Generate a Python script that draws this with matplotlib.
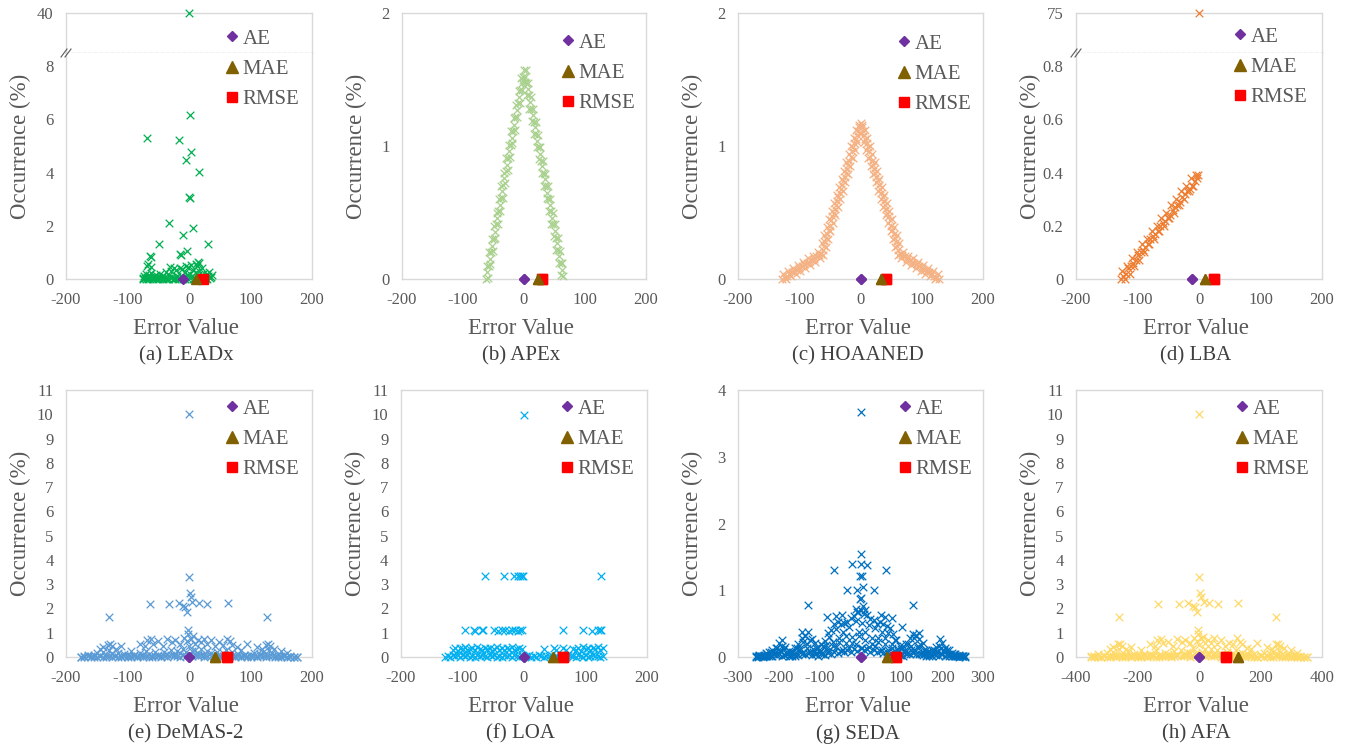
import numpy as np
import matplotlib.pyplot as plt
from matplotlib.lines import Line2D

plt.rcParams['font.family'] = ['Liberation Serif', 'DejaVu Serif']
plt.rcParams['axes.unicode_minus'] = False

# ---------------- data ----------------
metric_names = ['AE', 'MAE', 'RMSE']

# (a) LEADx
leadx_x = [0, 1, -68, -16, 3, -5, 16, 0, 1, -33, 7, -10, -48, 31, -4, -15, -13, -64, -62, -66, -69, -61, 14, 17, 11,
           -75, -73, -71, -70, -68, -66, -65, -63, -61, -59, -57, -55, -53, -51, -49, -47, -45, -43, -41, -39,
           -37, -35, -33, -31, -29, -27, -25, -23, -21, -19, -17, -15, -13, -11, -9, -7, -5, -3, -1, 1, 3, 5,
           7, 9, 11, 13, 15, 17, 19, 21, 23, 25, 27, 29, 31, 33, 35, 37,
           -74, -70, -66, -62, -58, -54, -50, -46, -42, -38, -34, -30, -26, -22, -18, -14, -10, -6, -2, 2, 6,
           10, 14, 18, 22, 26, 30, 34]
leadx_y = [40.0, 6.15, 5.32, 5.21, 4.76, 4.46, 4.02, 3.09, 3.05, 2.12, 1.91, 1.65, 1.31, 1.31, 1.05, 0.94, 0.90,
           0.88, 0.82, 0.56, 0.50, 0.44, 0.63, 0.60, 0.58,
           0.05, 0.12, 0.02, 0.18, 0.08, 0.03, 0.14, 0.06, 0.22, 0.04, 0.11, 0.02, 0.15, 0.07, 0.03, 0.19, 0.05,
           0.12, 0.02, 0.09, 0.25, 0.04, 0.14, 0.45, 0.30, 0.08, 0.40, 0.03, 0.35, 0.10, 0.05, 0.42, 0.12, 0.38,
           0.07, 0.28, 0.50, 0.15, 0.45, 0.20, 0.52, 0.10, 0.35, 0.05, 0.25, 0.48, 0.15, 0.30, 0.08, 0.40, 0.12,
           0.22, 0.05, 0.18, 0.10, 0.25, 0.06, 0.15,
           0.0, 0.01, 0.0, 0.02, 0.0, 0.01, 0.0, 0.02, 0.0, 0.01, 0.0, 0.02, 0.0, 0.01, 0.0, 0.02, 0.0, 0.01,
           0.0, 0.02, 0.0, 0.01, 0.0, 0.02, 0.0, 0.01, 0.0, 0.02]
leadx_metrics = [-9, 12, 23]

# (b) APEx
apex_x = [-62, -60, -58, -56, -54, -52, -50, -48, -46, -44, -42, -40, -38, -36, -34, -32, -30, -28, -26, -24,
          -22, -20, -18, -16, -14, -12, -10, -8, -6, -4, -2, 0,
          2, 4, 6, 8, 10, 12, 14, 16, 18, 20, 22, 24, 26, 28, 30, 32, 34, 36, 38, 40, 42, 44, 46, 48, 50, 52,
          54, 56, 58, 60, 62, 64]
apex_y = [0.00, 0.05, 0.10, 0.15, 0.20, 0.25, 0.30, 0.35, 0.41, 0.46, 0.51, 0.56, 0.61, 0.66, 0.71, 0.76, 0.81,
          0.86, 0.91, 0.96, 1.01, 1.06, 1.11, 1.16, 1.22, 1.27, 1.32, 1.37, 1.42, 1.47, 1.52, 1.57,
          1.52, 1.47, 1.43, 1.38, 1.33, 1.28, 1.23, 1.18, 1.14, 1.09, 1.04, 0.99, 0.94, 0.89, 0.85, 0.80, 0.75,
          0.70, 0.65, 0.60, 0.56, 0.51, 0.46, 0.41, 0.36, 0.31, 0.27, 0.22, 0.17, 0.12, 0.07, 0.02]
apex_x2 = [-61, -59, -57, -55, -53, -51, -49, -47, -45, -43, -41, -39, -37, -35, -33, -31, -29, -27, -25, -23,
           -21, -19, -17, -15, -13, -11, -9, -7, -5, -3, -1,
           1, 3, 5, 7, 9, 11, 13, 15, 17, 19, 21, 23, 25, 27, 29, 31, 33, 35, 37, 39, 41, 43, 45, 47, 49, 51,
           53, 55, 57, 59, 61, 63]
apex_y2 = [0.10, 0.01, 0.20, 0.11, 0.30, 0.21, 0.40, 0.31, 0.50, 0.41, 0.60, 0.51, 0.70, 0.61, 0.80, 0.72, 0.91,
           0.82, 1.01, 0.92, 1.11, 1.02, 1.21, 1.12, 1.31, 1.22, 1.41, 1.32, 1.51, 1.42, 1.50,
           1.48, 1.57, 1.38, 1.47, 1.28, 1.37, 1.19, 1.28, 1.09, 1.18, 0.99, 1.08, 0.90, 0.99, 0.80, 0.89, 0.70,
           0.79, 0.61, 0.70, 0.51, 0.60, 0.41, 0.50, 0.32, 0.41, 0.22, 0.31, 0.12, 0.21, 0.03, 0.12]
apex_metrics = [0, 23, 29]

# (c) HOAANED
hoa_x = [-128, -124, -120, -116, -112, -108, -104, -100, -96, -92, -88, -84, -80, -76, -72, -68,
         -64, -62, -60, -58, -56, -54, -52, -50, -48, -46, -44, -42, -40, -38, -36, -34, -32, -30, -28, -26,
         -24, -22, -20, -18, -16, -14, -12, -10, -8, -6, -4, -2, 0,
         2, 4, 6, 8, 10, 12, 14, 16, 18, 20, 22, 24, 26, 28, 30, 32, 34, 36, 38, 40, 42, 44, 46, 48, 50, 52,
         54, 56, 58, 60, 62, 64,
         68, 72, 76, 80, 84, 88, 92, 96, 100, 104, 108, 112, 116, 120, 124, 128]
hoa_y = [0.00, 0.01, 0.02, 0.04, 0.05, 0.06, 0.07, 0.08, 0.10, 0.11, 0.12, 0.13, 0.14, 0.15, 0.17, 0.18,
         0.19, 0.22, 0.25, 0.28, 0.31, 0.34, 0.37, 0.40, 0.44, 0.47, 0.50, 0.53, 0.56, 0.59, 0.62, 0.65, 0.68,
         0.71, 0.74, 0.77, 0.80, 0.83, 0.86, 0.89, 0.92, 0.96, 0.99, 1.02, 1.05, 1.08, 1.11, 1.14, 1.17,
         1.14, 1.11, 1.08, 1.05, 1.02, 0.99, 0.96, 0.92, 0.89, 0.86, 0.83, 0.80, 0.77, 0.74, 0.71, 0.68, 0.65,
         0.62, 0.59, 0.56, 0.53, 0.50, 0.47, 0.44, 0.40, 0.37, 0.34, 0.31, 0.28, 0.25, 0.22, 0.19,
         0.18, 0.17, 0.15, 0.14, 0.13, 0.12, 0.11, 0.10, 0.08, 0.07, 0.06, 0.05, 0.04, 0.02, 0.01, 0.00]
hoa_x2 = [-126, -122, -118, -114, -110, -106, -102, -98, -94, -90, -86, -82, -78, -74, -70, -66,
          -63, -61, -59, -57, -55, -53, -51, -49, -47, -45, -43, -41, -39, -37, -35, -33, -31, -29, -27, -25,
          -23, -21, -19, -17, -15, -13, -11, -9, -7, -5, -3, -1,
          1, 3, 5, 7, 9, 11, 13, 15, 17, 19, 21, 23, 25, 27, 29, 31, 33, 35, 37, 39, 41, 43, 45, 47, 49, 51,
          53, 55, 57, 59, 61, 63,
          66, 70, 74, 78, 82, 86, 90, 94, 98, 102, 106, 110, 114, 118, 122, 126]
hoa_y2 = [0.035, 0.00, 0.06, 0.02, 0.085, 0.035, 0.105, 0.06, 0.13, 0.085, 0.155, 0.105, 0.175, 0.13, 0.20, 0.155,
          0.27, 0.18, 0.33, 0.24, 0.39, 0.30, 0.45, 0.36, 0.51, 0.42, 0.57, 0.48, 0.63, 0.54, 0.69, 0.60, 0.75,
          0.66, 0.81, 0.73, 0.88, 0.79, 0.94, 0.85, 1.00, 0.91, 1.06, 0.97, 1.12, 1.03, 1.16, 1.10,
          1.10, 1.16, 1.03, 1.12, 0.97, 1.06, 0.91, 1.00, 0.85, 0.94, 0.79, 0.88, 0.73, 0.81, 0.66, 0.75, 0.60,
          0.69, 0.54, 0.63, 0.48, 0.57, 0.42, 0.51, 0.36, 0.45, 0.30, 0.39, 0.24, 0.33, 0.18, 0.27,
          0.155, 0.20, 0.13, 0.175, 0.105, 0.155, 0.085, 0.13, 0.06, 0.105, 0.035, 0.085, 0.02, 0.06, 0.00, 0.035]
hoa_metrics = [0, 33, 41]

# (d) LBA
lba_x = [-127, -123, -119, -115, -111, -107, -103, -99, -95, -91, -87, -83, -79, -75, -71, -67, -63, -59, -55,
         -51, -47, -43, -39, -35, -31, -27, -23, -19, -15, -11, -7, -3, -1, 0]
lba_y = [0.00, 0.01, 0.02, 0.04, 0.05, 0.06, 0.07, 0.09, 0.10, 0.11, 0.12, 0.13, 0.15, 0.16, 0.17, 0.18, 0.20,
         0.21, 0.22, 0.23, 0.24, 0.26, 0.27, 0.28, 0.29, 0.31, 0.32, 0.33, 0.34, 0.35, 0.37, 0.38, 0.39, 75.0]
lba_x2 = [-125, -121, -117, -113, -109, -105, -101, -97, -93, -89, -85, -81, -77, -73, -69, -65, -61, -57, -53,
          -49, -45, -41, -37, -33, -29, -25, -21, -17, -13, -9, -5]
lba_y2 = [0.03, 0.00, 0.05, 0.02, 0.08, 0.05, 0.10, 0.07, 0.13, 0.10, 0.15, 0.13, 0.18, 0.15, 0.20, 0.18, 0.23,
          0.20, 0.25, 0.23, 0.28, 0.25, 0.30, 0.28, 0.33, 0.30, 0.35, 0.33, 0.38, 0.35, 0.39]
lba_metrics = [-11, 10, 24]

# (e) DeMAS-2
demas_x = [-175, -170, -165, -160, -155, -150, -145, -140, -135, -130, -125, -120, -115, -110, -105, -100, -95,
           -90, -85, -80, -75, -70, -65, -60, -55, -50, -45, -40, -35, -30, -25, -20, -15, -10, -5, 0, 5, 10,
           15, 20, 25, 30, 35, 40, 45, 50, 55, 60, 65, 70, 75, 80, 85, 90, 95, 100, 105, 110, 115, 120, 125,
           130, 135, 140, 145, 150, 155, 160, 165, 170, 175]
demas_band = [0.02, 0.05, 0.10, 0.03, 0.08, 0.15, 0.05, 0.20, 0.10, 0.30, 0.12, 0.06, 0.18, 0.04, 0.12, 0.08,
              0.03, 0.10, 0.05, 0.15, 0.08, 0.25, 0.12, 0.05, 0.20, 0.10, 0.06, 0.22, 0.12, 0.30, 0.08, 0.25,
              0.15, 0.35, 0.20, 0.45, 0.25, 0.30, 0.12, 0.35, 0.10, 0.25, 0.15, 0.08, 0.20, 0.05, 0.15, 0.30,
              0.10, 0.20, 0.06, 0.12, 0.04, 0.10, 0.03, 0.08, 0.15, 0.05, 0.12, 0.20, 0.10, 0.28, 0.15, 0.05,
              0.10, 0.03, 0.08, 0.02, 0.06, 0.01, 0.02]
demas_low = [0.00, 0.01, 0.03, 0.00, 0.02, 0.01, 0.04, 0.00, 0.02, 0.05, 0.01, 0.03, 0.00, 0.02, 0.04, 0.01,
             0.00, 0.03, 0.02, 0.05, 0.01, 0.04, 0.00, 0.02, 0.06, 0.03, 0.01, 0.05, 0.02, 0.07, 0.03, 0.06,
             0.02, 0.08, 0.04, 0.10, 0.05, 0.08, 0.03, 0.07, 0.02, 0.06, 0.04, 0.01, 0.05, 0.02, 0.04, 0.06,
             0.01, 0.03, 0.02, 0.04, 0.00, 0.03, 0.01, 0.02, 0.05, 0.00, 0.03, 0.04, 0.02, 0.05, 0.03, 0.01,
             0.02, 0.00, 0.03, 0.01, 0.02, 0.00, 0.01]
demas_mid_x = [-145, -140, -132, -128, -125, -118, -110, -95, -80, -72, -68, -62, -58, -50, -42, -35, -28, -22,
               -15, -8, -4, -2, 3, 6, 10, 14, 20, 25, 30, 35, 42, 48, 55, 62, 66, 70, 78, 85, 95, 110, 118, 125,
               128, 132, 138, 150, 160]
demas_mid_y = [0.35, 0.40, 0.50, 0.55, 0.45, 0.35, 0.45, 0.25, 0.55, 0.45, 0.70, 0.75, 0.55, 0.65, 0.45, 0.75,
               0.60, 0.70, 0.55, 0.80, 0.65, 0.95, 0.75, 0.85, 0.55, 0.70, 0.60, 0.75, 0.55, 0.70, 0.45, 0.60,
               0.50, 0.75, 0.65, 0.50, 0.40, 0.30, 0.55, 0.40, 0.35, 0.50, 0.55, 0.45, 0.35, 0.25, 0.15]
demas_out_x = [0, 0, 2, 4, -6, -3, -64, -33, -17, -10, 5, 16, 30, 63, -130, 127, -2]
demas_out_y = [10.0, 3.31, 2.62, 2.46, 2.07, 1.84, 2.20, 2.18, 2.22, 2.10, 2.28, 2.24, 2.20, 2.22, 1.64, 1.64,
               1.10]
demas_metrics = [0, 43, 62]

# (f) LOA
loa_low_x = [-128, -124, -120, -116, -112, -108, -104, -100, -96, -92, -88, -84, -80, -76, -72, -68, -64, -60,
             -56, -52, -48, -44, -40, -36, -32, -28, -24, -20, -16, -12, -8, -4,
             4, 8, 12, 16, 20, 24, 28, 32, 36, 40, 44, 48, 52, 56, 60, 64, 68, 72, 76, 80, 84, 88, 92, 96, 100,
             104, 108, 112, 116, 120, 124, 128]
loa_low_y = [0.02, 0.06, 0.00, 0.09, 0.03, 0.07, 0.01, 0.10, 0.04, 0.08, 0.02, 0.06, 0.00, 0.09, 0.03, 0.07,
             0.05, 0.01, 0.08, 0.04, 0.10, 0.02, 0.06, 0.00, 0.09, 0.03, 0.07, 0.01, 0.08, 0.05, 0.02, 0.06,
             0.03, 0.07, 0.01, 0.05, 0.02, 0.08, 0.04, 0.00, 0.06, 0.03, 0.09, 0.01, 0.05, 0.02, 0.07, 0.04,
             0.00, 0.08, 0.03, 0.06, 0.01, 0.09, 0.04, 0.02, 0.07, 0.00, 0.05, 0.10, 0.03, 0.06, 0.01, 0.04]
loa_mid_x = [-116, -112, -108, -104, -100, -96, -92, -88, -84, -80, -76, -72, -68, -64, -60, -56, -52, -48, -44,
             -40, -36, -32, -28, -24, -20, -16, -12, -8, -4,
             32, 48, 52, 64, 68, 80, 84, 88, 92, 96, 100, 104, 108, 112, 116, 120, 124, 128]
loa_mid_y = [0.30, 0.36, 0.25, 0.38, 0.32, 0.40, 0.28, 0.35, 0.38, 0.30, 0.40, 0.33, 0.27, 0.37, 0.31, 0.39,
             0.26, 0.35, 0.40, 0.30, 0.36, 0.28, 0.38, 0.33, 0.40, 0.29, 0.35, 0.37, 0.31,
             0.35, 0.38, 0.30, 0.36, 0.28, 0.35, 0.30, 0.38, 0.26, 0.40, 0.32, 0.36, 0.29, 0.38, 0.33, 0.40,
             0.30, 0.37]
loa_hi_x = [-96, -82, -80, -69, -66, -48, -42, -36, -31, -25, -20, -15, -10, -6, -4, 64, 96, 110, 121, 124, 126,
            -63, -32, -17, -10, -6, -4, -1, 126, 0]
loa_hi_y = [1.10, 1.12, 1.08, 1.10, 1.11, 1.12, 1.09, 1.10, 1.11, 1.08, 1.12, 1.10, 1.09, 1.11, 1.10, 1.12,
            1.10, 1.08, 1.11, 1.10, 1.12,
            3.32, 3.32, 3.32, 3.32, 3.35, 3.32, 3.35, 3.32, 9.98]
loa_metrics = [0, 47, 63]

# (g) SEDA
seda_x = [-256, -248, -240, -232, -224, -216, -208, -200, -192, -184, -176, -168, -160, -152, -144, -136, -128,
          -120, -112, -104, -96, -88, -80, -72, -64, -56, -48, -40, -32, -24, -16, -8, 0, 8, 16, 24, 32, 40,
          48, 56, 64, 72, 80, 88, 96, 104, 112, 120, 128, 136, 144, 152, 160, 168, 176, 184, 192, 200, 208,
          216, 224, 232, 240, 248, 256]
seda_top = [0.01, 0.03, 0.02, 0.06, 0.07, 0.11, 0.13, 0.21, 0.17, 0.15, 0.09, 0.08, 0.13, 0.19, 0.29, 0.32,
            0.37, 0.27, 0.21, 0.14, 0.19, 0.24, 0.36, 0.41, 0.49, 0.52, 0.50, 0.51, 0.53, 0.59, 0.61, 0.67,
            0.70, 0.65, 0.63, 0.57, 0.55, 0.49, 0.53, 0.49, 0.47, 0.43, 0.34, 0.26, 0.17, 0.16, 0.19, 0.29,
            0.34, 0.33, 0.27, 0.21, 0.11, 0.09, 0.10, 0.15, 0.17, 0.21, 0.13, 0.10, 0.06, 0.05, 0.03, 0.02, 0.01]
seda_low = [0.00, 0.01, 0.00, 0.01, 0.02, 0.01, 0.03, 0.04, 0.02, 0.03, 0.01, 0.02, 0.01, 0.03, 0.05, 0.04,
            0.06, 0.03, 0.05, 0.02, 0.04, 0.03, 0.06, 0.05, 0.08, 0.06, 0.09, 0.07, 0.10, 0.08, 0.12, 0.09,
            0.14, 0.10, 0.12, 0.08, 0.11, 0.07, 0.09, 0.06, 0.08, 0.05, 0.07, 0.04, 0.03, 0.02, 0.04, 0.05,
            0.06, 0.04, 0.05, 0.03, 0.02, 0.01, 0.02, 0.03, 0.02, 0.04, 0.02, 0.01, 0.02, 0.01, 0.00, 0.01, 0.00]
seda_x2 = [-252, -244, -236, -228, -220, -212, -204, -196, -188, -180, -172, -164, -156, -148, -140, -132, -124,
           -116, -108, -100, -92, -84, -76, -68, -60, -52, -44, -36, -28, -20, -12, -4, 4, 12, 20, 28, 36, 44,
           52, 60, 68, 76, 84, 92, 100, 108, 116, 124, 132, 140, 148, 156, 164, 172, 180, 188, 196, 204, 212,
           220, 228, 236, 244, 252]
seda_mid1 = [0.01, 0.01, 0.03, 0.04, 0.07, 0.06, 0.14, 0.10, 0.12, 0.07, 0.07, 0.05, 0.14, 0.13, 0.23, 0.20,
             0.25, 0.12, 0.14, 0.09, 0.16, 0.18, 0.30, 0.23, 0.42, 0.28, 0.38, 0.31, 0.45, 0.30, 0.54, 0.37,
             0.51, 0.38, 0.48, 0.28, 0.44, 0.28, 0.38, 0.29, 0.36, 0.19, 0.26, 0.12, 0.12, 0.10, 0.19, 0.16,
             0.29, 0.17, 0.18, 0.10, 0.08, 0.05, 0.10, 0.09, 0.14, 0.10, 0.10, 0.04, 0.05, 0.02, 0.02, 0.01]
seda_mid2 = [0.00, 0.01, 0.01, 0.02, 0.02, 0.04, 0.05, 0.09, 0.03, 0.05, 0.02, 0.04, 0.05, 0.11, 0.06, 0.14,
             0.08, 0.08, 0.05, 0.07, 0.04, 0.12, 0.10, 0.16, 0.15, 0.23, 0.10, 0.21, 0.14, 0.21, 0.19, 0.31,
             0.14, 0.26, 0.15, 0.20, 0.16, 0.23, 0.10, 0.20, 0.11, 0.13, 0.09, 0.09, 0.03, 0.07, 0.06, 0.11,
             0.10, 0.14, 0.05, 0.06, 0.03, 0.03, 0.04, 0.07, 0.04, 0.07, 0.03, 0.03, 0.02, 0.02, 0.01, 0.01]
seda_out_x = [0, 0, -20, 0, 15, -66, 63, -2, 3, -34, -8, 7, 32, -2, 2, -129, 129, -82, -45, 50, 77, 101, 143,
              195, -192, -143, -60, 60, -12, 12, 5, -5]
seda_out_y = [3.67, 1.55, 1.39, 1.40, 1.38, 1.30, 1.30, 1.22, 1.22, 1.01, 1.01, 1.05, 1.01, 0.87, 0.88, 0.78,
              0.78, 0.60, 0.63, 0.63, 0.58, 0.45, 0.36, 0.27, 0.26, 0.38, 0.62, 0.60, 0.72, 0.70, 0.76, 0.68]
seda_metrics = [0, 65, 88]

# (h) AFA
afa_x = [-350, -340, -330, -320, -310, -300, -290, -280, -270, -260, -250, -240, -230, -220, -210, -200, -190,
         -180, -170, -160, -150, -140, -130, -120, -110, -100, -90, -80, -70, -60, -50, -40, -30, -20, -10, 0,
         10, 20, 30, 40, 50, 60, 70, 80, 90, 100, 110, 120, 130, 140, 150, 160, 170, 180, 190, 200, 210, 220,
         230, 240, 250, 260, 270, 280, 290, 300, 310, 320, 330, 340, 350]
afa_band = [0.03, 0.06, 0.12, 0.02, 0.09, 0.16, 0.04, 0.22, 0.08, 0.32, 0.10, 0.07, 0.20, 0.03, 0.14, 0.07,
            0.04, 0.12, 0.06, 0.14, 0.09, 0.27, 0.10, 0.06, 0.18, 0.12, 0.05, 0.24, 0.10, 0.28, 0.09, 0.22,
            0.16, 0.38, 0.18, 0.48, 0.22, 0.32, 0.14, 0.33, 0.12, 0.27, 0.13, 0.09, 0.22, 0.06, 0.16, 0.28,
            0.12, 0.18, 0.07, 0.14, 0.05, 0.11, 0.02, 0.09, 0.17, 0.04, 0.13, 0.22, 0.08, 0.30, 0.13, 0.06,
            0.12, 0.04, 0.07, 0.03, 0.05, 0.02, 0.01]
afa_low = [0.01, 0.00, 0.02, 0.01, 0.03, 0.00, 0.02, 0.04, 0.01, 0.03, 0.00, 0.02, 0.05, 0.01, 0.03, 0.00,
           0.02, 0.04, 0.01, 0.03, 0.05, 0.02, 0.01, 0.04, 0.03, 0.06, 0.02, 0.04, 0.07, 0.03, 0.05, 0.08,
           0.02, 0.06, 0.09, 0.04, 0.07, 0.03, 0.08, 0.05, 0.03, 0.07, 0.02, 0.05, 0.04, 0.01, 0.06, 0.03,
           0.02, 0.05, 0.01, 0.03, 0.04, 0.00, 0.02, 0.03, 0.01, 0.04, 0.02, 0.00, 0.03, 0.04, 0.01, 0.02,
           0.03, 0.01, 0.00, 0.02, 0.01, 0.00, 0.01]
afa_mid_x = [-290, -280, -264, -256, -250, -236, -220, -190, -160, -144, -136, -124, -116, -100, -84, -70, -56,
             -44, -30, -16, -8, -4, 6, 12, 20, 28, 40, 50, 60, 70, 84, 96, 110, 124, 132, 140, 156, 170, 190,
             220, 236, 250, 256, 264, 276, 300, 320]
afa_mid_y = [0.33, 0.42, 0.52, 0.53, 0.47, 0.33, 0.43, 0.27, 0.53, 0.47, 0.72, 0.73, 0.57, 0.63, 0.47, 0.73,
             0.62, 0.68, 0.57, 0.78, 0.67, 0.93, 0.77, 0.83, 0.57, 0.72, 0.58, 0.77, 0.53, 0.72, 0.47, 0.58,
             0.52, 0.77, 0.63, 0.52, 0.38, 0.32, 0.57, 0.42, 0.33, 0.52, 0.53, 0.47, 0.37, 0.27, 0.17]
afa_out_x = [0, 0, 4, 8, -12, -6, -133, -66, -37, -20, 15, 34, 61, 127, -259, 250, -3]
afa_out_y = [10.0, 3.31, 2.62, 2.46, 2.07, 1.84, 2.20, 2.18, 2.22, 2.10, 2.28, 2.24, 2.20, 2.22, 1.64, 1.64,
             1.10]
afa_metrics = [0, 126, 87]

# ---------------- drawing ----------------
W, H = 1349, 751
GRAY = '#595959'
EDGE = '#D9D9D9'
AE_C, MAE_C, RMSE_C = '#7030A0', '#806000', '#FF0000'

fig = plt.figure(figsize=(W / 100, H / 100), dpi=100)


def rect(l, t, r, b):
    return [l / W, 1 - b / H, (r - l) / W, (b - t) / H]


def setup(ax, xlim, xticks, ylim, yticks, ylabels, show_x=True):
    ax.set_xlim(*xlim)
    ax.set_ylim(*ylim)
    ax.set_yticks(yticks, labels=ylabels)
    if show_x:
        ax.set_xticks(xticks, labels=[str(v) for v in xticks])
    else:
        ax.set_xticks([])
    ax.tick_params(length=0, labelsize=12, labelcolor=GRAY, pad=9)
    for s in ax.spines.values():
        s.set_color(EDGE)
        s.set_linewidth(1.0)


def crosses(ax, xs, ys, color):
    ax.scatter(xs, ys, marker='x', s=30, linewidths=0.9, color=color, clip_on=False, zorder=3)


def metrics(ax, vals):
    ae, mae, rmse = vals
    ax.plot([rmse], [0], 's', color=RMSE_C, ms=7, clip_on=False, zorder=5)
    ax.plot([mae], [0], '^', color=MAE_C, ms=7.5, clip_on=False, zorder=6)
    ax.plot([ae], [0], 'D', color=AE_C, ms=4.8, clip_on=False, zorder=7)


def legend(ax, mx, my):
    handles = [Line2D([], [], ls='none', marker='D', color=AE_C, ms=5.5),
               Line2D([], [], ls='none', marker='^', color=MAE_C, ms=8),
               Line2D([], [], ls='none', marker='s', color=RMSE_C, ms=7.5)]
    ax.legend(handles, metric_names, loc='upper left',
              bbox_to_anchor=((mx - 7) / W, 1 - (my - 8) / H), bbox_transform=fig.transFigure,
              frameon=False, fontsize=15, handlelength=0.7, handletextpad=0.15, labelspacing=0.52,
              borderpad=0, borderaxespad=0, labelcolor=GRAY)


def texts(l, r, t, b, caption):
    cx = (l + r) / 2 - 3
    fig.text(cx / W, 1 - (b + 55) / H, 'Error Value', ha='center', va='baseline', fontsize=16.5, color=GRAY)
    fig.text(cx / W, 1 - (b + 77) / H, caption, ha='center', va='center', fontsize=15, color='#404040')
    fig.text((l - 46) / W, 1 - (t + b) / 2 / H, 'Occurrence (%)', rotation=90, ha='center', va='center',
             fontsize=16.5, color=GRAY)


def panel(box, xs, ys, color, mvals, xlim, xticks, ylim, yticks, ylabels, caption, leg):
    l, t, r, b = box
    ax = fig.add_axes(rect(l, t, r, b))
    setup(ax, xlim, xticks, ylim, yticks, ylabels)
    crosses(ax, xs, ys, color)
    metrics(ax, mvals)
    legend(ax, *leg)
    texts(l, r, t, b, caption)
    return ax


def broken_panel(box, yb, xs, ys, color, mvals, xlim, xticks, up_ylim, up_tick, ylim, yticks, ylabels,
                 caption, leg):
    l, t, r, b = box
    xs, ys = np.asarray(xs), np.asarray(ys)
    hi = ys > ylim[1]
    up = fig.add_axes(rect(l, t, r, yb))
    setup(up, xlim, xticks, up_ylim, [up_tick], [str(up_tick)], show_x=False)
    up.spines['bottom'].set_linestyle((0, (2, 2)))
    up.spines['bottom'].set_color('#BFBFBF')
    crosses(up, xs[hi], ys[hi], color)
    lo = fig.add_axes(rect(l, yb, r, b))
    setup(lo, xlim, xticks, ylim, yticks, ylabels)
    lo.spines['top'].set_visible(False)
    crosses(lo, xs[~hi], ys[~hi], color)
    metrics(lo, mvals)
    legend(lo, *leg)
    texts(l, r, t, b, caption)
    # break marks on the left axis
    for dx in (-2, 2):
        fig.add_artist(Line2D([(l - 3 + dx) / W, (l + 3 + dx) / W], [1 - (yb + 4) / H, 1 - (yb - 4) / H],
                              color=GRAY, lw=0.8))
    return lo


x200 = [-200, -100, 0, 100, 200]
top_t, top_b = 13, 279
bot_t, bot_b = 390, 657
y11 = list(range(0, 12))

broken_panel((66, top_t, 312, top_b), 53, leadx_x, leadx_y, '#00B050', leadx_metrics, (-200, 200), x200,
             (38.6, 40), 40, (0, 8.5), [0, 2, 4, 6, 8], ['0', '2', '4', '6', '8'], '(a) LEADx', (232, 37))

ax_b = panel((402, top_t, 646, top_b), apex_x, apex_y, '#A9D18E', apex_metrics, (-200, 200), x200,
             (0, 2), [0, 1, 2], ['0', '1', '2'], '(b) APEx', (568, 41))
crosses(ax_b, apex_x2, apex_y2, '#A9D18E')

ax_c = panel((738, top_t, 983, top_b), hoa_x, hoa_y, '#F4B183', hoa_metrics, (-200, 200), x200,
             (0, 2), [0, 1, 2], ['0', '1', '2'], '(c) HOAANED', (904, 42))
crosses(ax_c, hoa_x2, hoa_y2, '#F4B183')

ax_d = broken_panel((1076, top_t, 1322, top_b), 53, lba_x, lba_y, '#ED7D31', lba_metrics, (-200, 200), x200,
                    (73, 75), 75, (0, 0.85), [0, 0.2, 0.4, 0.6, 0.8], ['0', '0.2', '0.4', '0.6', '0.8'],
                    '(d) LBA', (1240, 35))
crosses(ax_d, lba_x2, lba_y2, '#ED7D31')

ax_e = panel((66, bot_t, 312, bot_b), demas_x, demas_band, '#5B9BD5', demas_metrics, (-200, 200), x200,
             (0, 11), y11, [str(v) for v in y11], '(e) DeMAS-2', (232, 407))
crosses(ax_e, demas_x, demas_low, '#5B9BD5')
crosses(ax_e, demas_mid_x, demas_mid_y, '#5B9BD5')
crosses(ax_e, demas_out_x, demas_out_y, '#5B9BD5')

ax_f = panel((401, bot_t, 647, bot_b), loa_low_x, loa_low_y, '#00B0F0', loa_metrics, (-200, 200), x200,
             (0, 11), y11, [str(v) for v in y11], '(f) LOA', (567, 407))
crosses(ax_f, loa_mid_x, loa_mid_y, '#00B0F0')
crosses(ax_f, loa_hi_x, loa_hi_y, '#00B0F0')

x300 = [-300, -200, -100, 0, 100, 200, 300]
ax_g = panel((738, bot_t, 983, bot_b), seda_x, seda_top, '#0070C0', seda_metrics, (-300, 300), x300,
             (0, 4), [0, 1, 2, 3, 4], ['0', '1', '2', '3', '4'], '(g) SEDA', (905, 407))
crosses(ax_g, seda_x, seda_low, '#0070C0')
crosses(ax_g, seda_x2, seda_mid1, '#0070C0')
crosses(ax_g, seda_x2, seda_mid2, '#0070C0')
crosses(ax_g, seda_out_x, seda_out_y, '#0070C0')

x400 = [-400, -200, 0, 200, 400]
ax_h = panel((1076, bot_t, 1322, bot_b), afa_x, afa_band, '#FFD966', afa_metrics, (-400, 400), x400,
             (0, 11), y11, [str(v) for v in y11], '(h) AFA', (1242, 407))
crosses(ax_h, afa_x, afa_low, '#FFD966')
crosses(ax_h, afa_mid_x, afa_mid_y, '#FFD966')
crosses(ax_h, afa_out_x, afa_out_y, '#FFD966')

# metric markers on top of the extra crosses
for ax, m in [(ax_b, apex_metrics), (ax_c, hoa_metrics), (ax_d, lba_metrics), (ax_e, demas_metrics),
              (ax_f, loa_metrics), (ax_g, seda_metrics), (ax_h, afa_metrics)]:
    metrics(ax, m)

fig.savefig('out.png', dpi=100)
